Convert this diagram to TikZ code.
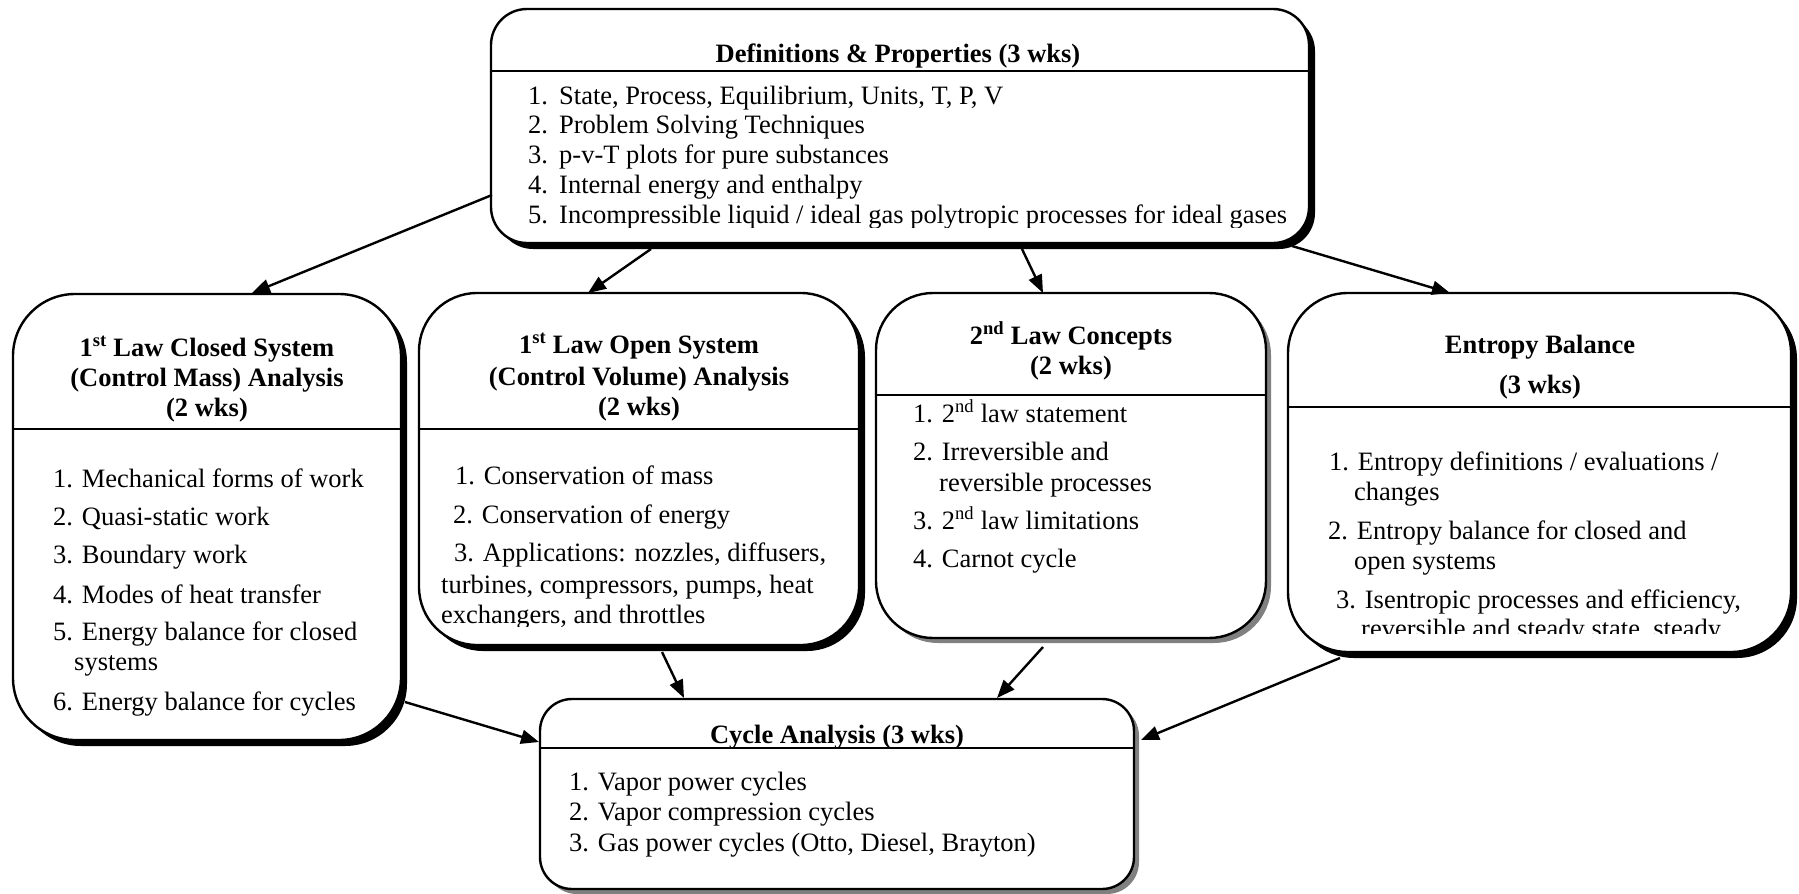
\documentclass[tikz,border=0pt]{standalone}
\usepackage{fontspec}
\setmainfont{Liberation Serif}
\usetikzlibrary{arrows.meta,shadows,calc}
\begin{document}
\begin{tikzpicture}[x=1pt,y=-1pt,
  box/.style={draw=black, line width=2.4pt, fill=white, inner sep=0pt},
  blackshadow/.style={drop shadow={shadow xshift=6pt,shadow yshift=-6pt,fill=black,opacity=1}},
  grayshadow/.style={drop shadow={shadow xshift=5pt,shadow yshift=-5pt,fill=black!50,opacity=1}},
  hdr/.style={font=\fontsize{26.5}{30}\selectfont\bfseries, inner sep=0pt, anchor=base},
  txt/.style={font=\fontsize{26.5}{30}\selectfont, inner sep=0pt, anchor=base west},
  rule/.style={line width=2pt},
  arr/.style={line width=2.4pt, -{Triangle[length=18pt,width=14pt]}}
]
\useasboundingbox (0,0) rectangle (1799,894);

% ---------- boxes ----------
\node[box, blackshadow, rounded corners=36pt, minimum width=818pt, minimum height=234pt] (defs) at (900,126) {};
\node[box, blackshadow, rounded corners=62pt, minimum width=388pt, minimum height=446pt] (clsd) at (207,517) {};
\node[box, blackshadow, rounded corners=58pt, minimum width=440pt, minimum height=352pt] (open) at (639,469) {};
\node[box, grayshadow, rounded corners=57pt, minimum width=390pt, minimum height=345pt] (law2) at (1071,465.5) {};
\node[box, blackshadow, rounded corners=60pt, minimum width=503pt, minimum height=359pt] (entr) at (1539.5,472.5) {};
\node[box, grayshadow, rounded corners=32pt, minimum width=594pt, minimum height=190pt] (cyc) at (837,794) {};

% ---------- header rules ----------
\draw[rule] ([shift={(0,-55)}]defs.west) -- ([shift={(0,-55)}]defs.east);
\draw[rule] ([shift={(0,-88)}]clsd.west) -- ([shift={(0,-88)}]clsd.east);
\draw[rule] ([shift={(0,-40)}]open.west) -- ([shift={(0,-40)}]open.east);
\draw[rule] ([shift={(0,-70.5)}]law2.west) -- ([shift={(0,-70.5)}]law2.east);
\draw[rule] ([shift={(0,-65.5)}]entr.west) -- ([shift={(0,-65.5)}]entr.east);
\draw[rule] ([shift={(0,-46)}]cyc.west) -- ([shift={(0,-46)}]cyc.east);

% ---------- Definitions & Properties ----------
\node[hdr] (dh) at (898,62) {Definitions \& Properties (3 wks)};
\node[txt] (d1) at (528,104) {\makebox[31pt][l]{1.}State, Process, Equilibrium, Units, T, P, V};
\node[txt] (d2) at (528,133) {\makebox[31pt][l]{2.}Problem Solving Techniques};
\node[txt] (d3) at (528,163) {\makebox[31pt][l]{3.}p-v-T plots for pure substances};
\node[txt] (d4) at (528,193) {\makebox[31pt][l]{4.}Internal energy and enthalpy};
\begin{scope}
\clip (500,200) rectangle (1300,227);
\node[txt] (d5) at (528,223) {\makebox[31pt][l]{5.}Incompressible liquid / ideal gas polytropic processes for ideal gases};
\end{scope}

% ---------- 1st Law Closed ----------
\node[hdr] (ch1) at (207,356) {1\textsuperscript{st} Law Closed System};
\node[hdr] (ch2) at (207,386) {(Control Mass) Analysis};
\node[hdr] (ch3) at (207,416) {(2 wks)};
\node[txt] (c1) at (53,487) {1. Mechanical forms of work};
\node[txt] (c2) at (53,525) {2. Quasi-static work};
\node[txt] (c3) at (53,563) {3. Boundary work};
\node[txt] (c4) at (53,603) {4. Modes of heat transfer};
\node[txt] (c5) at (53,640) {5. Energy balance for closed};
\node[txt] (c5b) at (74,670) {systems};
\node[txt] (c6) at (53,710) {6. Energy balance for cycles};

% ---------- 1st Law Open ----------
\node[hdr] (oh1) at (639,353) {1\textsuperscript{st} Law Open System};
\node[hdr] (oh2) at (639,385) {(Control Volume) Analysis};
\node[hdr] (oh3) at (639,415) {(2 wks)};
\node[txt] (o1) at (455,484) {1. Conservation of mass};
\node[txt] (o2) at (453,523) {2. Conservation of energy};
\node[txt] (o3) at (454,561) {3. Applications: nozzles, diffusers,};
\node[txt] (o4) at (441,593) {turbines, compressors, pumps, heat};
\begin{scope}
\clip (425,600) rectangle (855,626);
\node[txt] (o5) at (441,623) {exchangers, and throttles};
\end{scope}

% ---------- 2nd Law ----------
\node[hdr] (lh1) at (1071,344) {2\textsuperscript{nd} Law Concepts};
\node[hdr] (lh2) at (1071,374) {(2 wks)};
\node[txt] (l1) at (913,422) {1. 2\textsuperscript{nd} law statement};
\node[txt] (l2) at (913,460) {2. Irreversible and};
\node[txt] (l2b) at (939,491) {reversible processes};
\node[txt] (l3) at (913,529) {3. 2\textsuperscript{nd} law limitations};
\node[txt] (l4) at (913,567) {4. Carnot cycle};

% ---------- Entropy ----------
\node[hdr] (eh1) at (1540,353) {Entropy Balance};
\node[hdr] (eh2) at (1540,393) {(3 wks)};
\node[txt] (e1) at (1329,470) {1. Entropy definitions / evaluations /};
\node[txt] (e1b) at (1354,500) {changes};
\node[txt] (e2) at (1328,539) {2. Entropy balance for closed and};
\node[txt] (e2b) at (1354,569) {open systems};
\node[txt] (e3) at (1336,608) {3. Isentropic processes and efficiency,};
\begin{scope}
\clip (1295,615) rectangle (1785,633);
\node[txt] (e4) at (1361,637) {reversible and steady state, steady};
\end{scope}

% ---------- Cycle ----------
\node[hdr] (yh) at (837,743) {Cycle Analysis (3 wks)};
\node[txt] (y1) at (569,790) {1. Vapor power cycles};
\node[txt] (y2) at (569,820) {2. Vapor compression cycles};
\node[txt] (y3) at (569,851) {3. Gas power cycles (Otto, Diesel, Brayton)};

% ---------- connectors ----------
\draw[arr] ([shift={(-408,69)}]defs.center) -- ([shift={(45,-224)}]clsd.center);
\draw[arr] ([shift={(-249,123)}]defs.center) -- ([shift={(-51,-176)}]open.center);
\draw[arr] ([shift={(122,123)}]defs.center) -- ([shift={(-28,-172.5)}]law2.center);
\draw[arr] ([shift={(392,120)}]defs.center) -- ([shift={(-89.5,-179.5)}]entr.center);
\draw[arr] ([shift={(198,185)}]clsd.center) -- ([shift={(-298,-52)}]cyc.center);
\draw[arr] ([shift={(23,183)}]open.center) -- ([shift={(-153,-96)}]cyc.center);
\draw[arr] ([shift={(-28,181.5)}]law2.center) -- ([shift={(160,-96)}]cyc.center);
\draw[arr] ([shift={(-199.5,185.5)}]entr.center) -- ([shift={(304,-54)}]cyc.center);
\end{tikzpicture}
\end{document}
